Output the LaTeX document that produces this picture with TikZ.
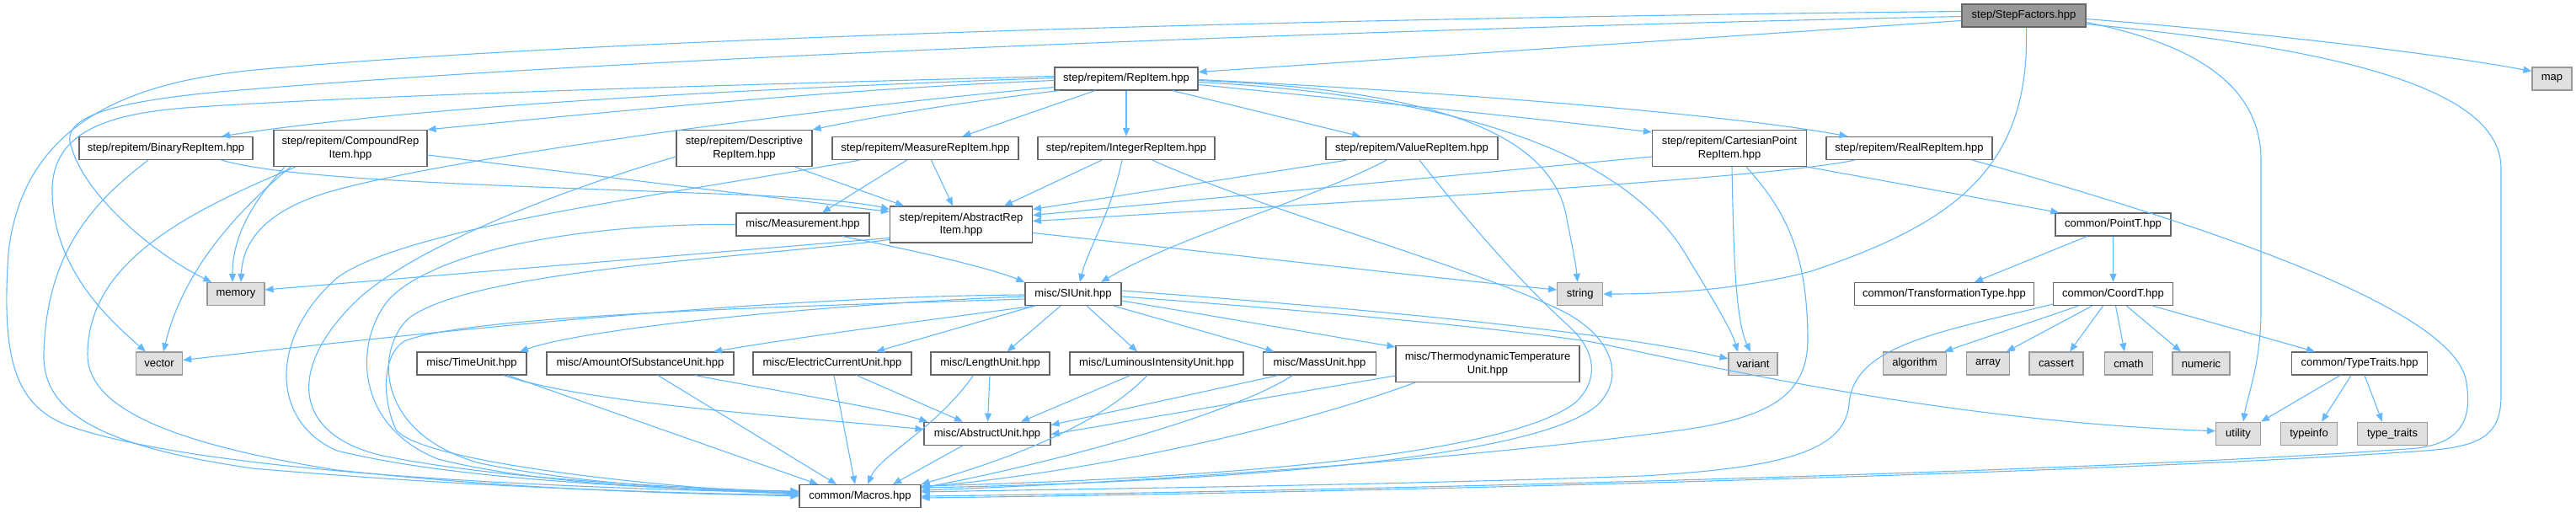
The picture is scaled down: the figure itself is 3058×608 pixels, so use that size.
\documentclass[tikz,border=0pt]{standalone}
\usepackage{fontspec}
\setmainfont{Liberation Sans}
\usetikzlibrary{arrows.meta}
\definecolor{edgec}{HTML}{63B8FF}
\definecolor{bord}{HTML}{666666}
\definecolor{extb}{HTML}{999999}
\definecolor{extf}{HTML}{E0E0E0}
\definecolor{rootf}{HTML}{999999}
\newcommand\dxfont{\fontsize{13pt}{15.5pt}\selectfont}
\begin{document}
\begin{tikzpicture}[x=1pt,y=-1pt,
 box/.style={draw=bord, fill=white, line width=1.2pt, inner sep=0pt, minimum height=27pt, font=\dxfont, align=center},
 tall/.style={minimum height=43pt},
 ext/.style={box, draw=extb, fill=extf},
 root/.style={box, fill=rootf},
 e/.style={draw=edgec, line width=1.1pt, -{Triangle[length=10pt,width=8pt]}}]
\useasboundingbox (0,0) rectangle (3058,608);
% nodes
\node[root, minimum width=147pt] (SF) at (2402.5,18.5) {step/StepFactors.hpp};
\node[box, minimum width=170pt] (RI) at (1337,93.5) {step/repitem/RepItem.hpp};
\node[ext, minimum width=47pt] (map) at (3029.5,93.5) {map};
\node[box, minimum width=206pt] (BIN) at (197,176) {step/repitem/BinaryRepItem.hpp};
\node[box, tall, minimum width=182pt] (CMP) at (416,176) {step/repitem/CompoundRep\\Item.hpp};
\node[box, tall, minimum width=161pt] (DSC) at (883.5,176) {step/repitem/Descriptive\\RepItem.hpp};
\node[box, minimum width=221pt] (MSR) at (1098.5,176) {step/repitem/MeasureRepItem.hpp};
\node[box, minimum width=210pt] (INT) at (1337,176) {step/repitem/IntegerRepItem.hpp};
\node[box, minimum width=204pt] (VAL) at (1676,176) {step/repitem/ValueRepItem.hpp};
\node[box, tall, minimum width=183pt] (CAR) at (2053,176) {step/repitem/CartesianPoint\\RepItem.hpp};
\node[box, minimum width=197pt] (REAL) at (2266.5,176) {step/repitem/RealRepItem.hpp};
\node[box, minimum width=158pt] (MEAS) at (953,266.5) {misc/Measurement.hpp};
\node[box, tall, minimum width=169pt] (ABS) at (1141,266.5) {step/repitem/AbstractRep\\Item.hpp};
\node[box, minimum width=137pt] (PT) at (2508.5,266.5) {common/PointT.hpp};
\node[ext, minimum width=68pt] (mem) at (280,349) {memory};
\node[box, minimum width=114pt] (SI) at (1274,349) {misc/SIUnit.hpp};
\node[ext, minimum width=54pt] (str) at (1875.7,349) {string};
\node[box, minimum width=213pt] (TT) at (2308,349) {common/TransformationType.hpp};
\node[box, minimum width=142pt] (CT) at (2508.5,349) {common/CoordT.hpp};
\node[ext, minimum width=55pt] (vec) at (189,431.5) {vector};
\node[box, minimum width=130pt] (TU) at (560,431.5) {misc/TimeUnit.hpp};
\node[box, minimum width=222pt] (AMT) at (760,431.5) {misc/AmountOfSubstanceUnit.hpp};
\node[box, minimum width=188pt] (EC) at (988,431.5) {misc/ElectricCurrentUnit.hpp};
\node[box, minimum width=141pt] (LEN) at (1175.5,431.5) {misc/LengthUnit.hpp};
\node[box, minimum width=206pt] (LUM) at (1373,431.5) {misc/LuminousIntensityUnit.hpp};
\node[box, minimum width=134pt] (MASS) at (1566.5,431.5) {misc/MassUnit.hpp};
\node[box, tall, minimum width=218pt] (THM) at (1766,432) {misc/ThermodynamicTemperature\\Unit.hpp};
\node[ext, minimum width=58pt] (var) at (2081,431.8) {variant};
\node[ext, minimum width=75pt] (alg) at (2273,431.5) {algorithm};
\node[ext, minimum width=51pt] (arr) at (2360,431.5) {array};
\node[ext, minimum width=64pt] (cas) at (2441,431.5) {cassert};
\node[ext, minimum width=57pt] (cm) at (2527,431.5) {cmath};
\node[ext, minimum width=68pt] (num) at (2613,431.5) {numeric};
\node[box, minimum width=161pt] (TTR) at (2801,431.5) {common/TypeTraits.hpp};
\node[box, minimum width=150pt] (AU) at (1172,514.7) {misc/AbstructUnit.hpp};
\node[ext, minimum width=53pt] (util) at (2657,514.7) {utility};
\node[ext, minimum width=67pt] (tinfo) at (2741,514.7) {typeinfo};
\node[ext, minimum width=83pt] (ttr) at (2840,514.7) {type\_traits};
\node[box, minimum width=144pt] (MAC) at (1021,589) {common/Macros.hpp};
% StepFactors
\draw[e] ([yshift=-6pt]SF.west) -- ([yshift=8pt]RI.east);
\draw[e] ([yshift=-4pt]SF.east) .. controls (2700,40) and (2900,65) .. ([yshift=9pt]map.west);
\draw[e] ([xshift=3pt]SF.south) .. controls (2410,200) and (2320,265) .. (2150,322) .. controls (2050,348) and (1950,349) .. (str.east);
\draw[e] ([yshift=-8pt]SF.east) .. controls (2620,55) and (2684,110) .. (2684,190) -- (2684,370) .. controls (2684,430) and (2668,470) .. ([xshift=6pt]util.north);
\draw[e] ([yshift=-10pt]SF.east) .. controls (2800,60) and (2969,110) .. (2969,200) -- (2969,470) .. controls (2969,520) and (2940,530) .. (2880,535) .. controls (2500,562) and (1600,585) .. ([yshift=-2pt]MAC.east);
\draw[e] ([yshift=5pt]SF.west) .. controls (1700,20) and (800,40) .. (338,80) .. controls (200,90) and (30,120) .. (10,300) .. controls (2,420) and (15,480) .. (80,505) .. controls (250,565) and (700,580) .. ([yshift=4pt]MAC.west);
\draw[e] ([yshift=-1pt]SF.west) .. controls (1600,35) and (700,70) .. (250,110) .. controls (130,122) and (70,140) .. (85,175) .. controls (100,230) and (180,300) .. (mem);
% RepItem
\draw[e] ([yshift=1pt]RI.west) .. controls (900,105) and (500,125) .. ([xshift=66pt]BIN.north);
\draw[e] ([yshift=-2pt]RI.west) .. controls (1000,105) and (700,135) .. (CMP.north east);
\draw[e] ([xshift=6pt]RI.south west) .. controls (1150,120) and (1040,138) .. (DSC.north east);
\draw[e] ([xshift=-37pt]RI.south) -- ([xshift=44pt]MSR.north);
\draw[e] (RI) -- (INT);
\draw[e] ([xshift=55pt]RI.south) -- ([xshift=-61pt]VAL.north);
\draw[e] ([yshift=-7pt]RI.east) .. controls (1600,118) and (1800,138) .. ([yshift=-3pt]CAR.north west);
\draw[e] ([yshift=-1pt]RI.east) .. controls (1700,108) and (2050,135) .. ([xshift=-73pt]REAL.north);
\draw[e] ([yshift=-10pt]RI.west) .. controls (950,130) and (520,190) .. (390,228) .. controls (310,252) and (288,290) .. ([xshift=6pt]mem.north);
\draw[e] ([yshift=-2pt]RI.east) .. controls (1650,105) and (1830,140) .. (1858,250) .. controls (1866,290) and (1871,315) .. ([xshift=-3pt]str.north);
\draw[e] ([yshift=-4pt]RI.east) .. controls (1700,112) and (1920,170) .. (2000,300) .. controls (2030,350) and (2055,390) .. ([xshift=-18pt]var.north);
\draw[e] ([yshift=3pt]RI.west) .. controls (900,100) and (450,112) .. (220,128) .. controls (120,136) and (60,160) .. (62,230) .. controls (64,320) and (130,380) .. (vec);
% BinaryRepItem
\draw[e] ([xshift=66pt]BIN.south) .. controls (350,215) and (600,220) .. (900,232) .. controls (980,236) and (1030,242) .. ([yshift=-4pt]ABS.north west);
\draw[e] ([xshift=-21pt]BIN.south) .. controls (110,240) and (55,300) .. (52,420) .. controls (50,490) and (120,530) .. (300,556) .. controls (600,582) and (850,586) .. ([yshift=1pt]MAC.west);
% CompoundRepItem
\draw[e] ([yshift=-8pt]CMP.east) -- ([yshift=-7pt]ABS.north west);
\draw[e] ([xshift=-78pt]CMP.south) .. controls (290,250) and (276,290) .. ([xshift=-4pt]mem.north);
\draw[e] ([xshift=-71pt]CMP.south) .. controls (270,260) and (215,330) .. ([xshift=5pt]vec.north);
\draw[e] ([xshift=-65pt]CMP.south) .. controls (200,260) and (105,320) .. (104,420) .. controls (103,480) and (190,525) .. (400,558) .. controls (650,585) and (850,586) .. (MAC.west);
% DescriptiveRepItem
\draw[e] ([xshift=60pt]DSC.south) -- ([xshift=-68pt]ABS.north);
\draw[e] ([yshift=-10pt]DSC.west) .. controls (650,230) and (480,300) .. (420,360) .. controls (340,440) and (350,515) .. (450,540) .. controls (600,572) and (850,580) .. ([yshift=5pt]MAC.west);
% MeasureRepItem
\draw[e] ([xshift=-22pt]MSR.south) -- ([xshift=23pt]MEAS.north);
\draw[e] ([xshift=7pt]MSR.south) -- ([xshift=-10pt]ABS.north);
\draw[e] ([xshift=-78pt]MSR.south) .. controls (800,230) and (480,270) .. (400,330) .. controls (320,400) and (320,500) .. (400,535) .. controls (550,572) and (800,580) .. ([yshift=4pt]MAC.west);
% Measurement
\draw[e] ([xshift=47pt]MEAS.south) .. controls (1100,300) and (1180,320) .. (SI.north west);
\draw[e] (MEAS.west) .. controls (700,265) and (520,295) .. (462,355) .. controls (420,405) and (420,505) .. (520,545) .. controls (660,580) and (860,582) .. ([yshift=6pt]MAC.west);
% AbstractRepItem
\draw[e] ([yshift=-16pt]ABS.west) -- ([yshift=5pt]mem.east);
\draw[e] ([yshift=-18pt]ABS.west) .. controls (900,305) and (560,320) .. (485,378) .. controls (445,415) and (445,515) .. (570,550) .. controls (720,580) and (880,583) .. ([yshift=2pt]MAC.west);
\draw[e] ([yshift=-10pt]ABS.east) .. controls (1400,295) and (1700,330) .. ([yshift=5pt]str.west);
% IntegerRepItem
\draw[e] ([xshift=-29pt]INT.south) -- ([xshift=51pt]ABS.north);
\draw[e] ([xshift=-5pt]INT.south) .. controls (1320,250) and (1290,300) .. ([xshift=8pt]SI.north);
\draw[e] ([xshift=31pt]INT.south) .. controls (1500,250) and (1760,320) .. (1860,372) .. controls (1915,402) and (1930,450) .. (1895,482) .. controls (1820,545) and (1450,572) .. ([yshift=10pt]MAC.east);
% ValueRepItem
\draw[e] ([xshift=-77pt]VAL.south) -- ([yshift=-4pt]ABS.north east);
\draw[e] ([xshift=-30pt]VAL.south) .. controls (1550,240) and (1400,280) .. ([xshift=33pt]SI.north);
\draw[e] ([xshift=9pt]VAL.south) .. controls (1740,260) and (1800,330) .. (1860,385) .. controls (1900,420) and (1895,455) .. (1870,478) .. controls (1790,540) and (1450,568) .. ([yshift=12pt]MAC.east);
% CartesianPointRepItem
\draw[e] ([yshift=-10pt]CAR.west) -- ([yshift=11pt]ABS.east);
\draw[e] ([xshift=3pt]CAR.south) .. controls (2058,300) and (2060,380) .. ([xshift=-3pt]var.north);
\draw[e] ([xshift=20pt]CAR.south) .. controls (2120,250) and (2145,300) .. (2146,400) .. controls (2147,470) and (2100,495) .. (2000,510) .. controls (1700,550) and (1300,575) .. ([yshift=7pt]MAC.east);
\draw[e] (CAR.south east) -- ([xshift=5pt]PT.north west);
% RealRepItem
\draw[e] ([xshift=-65pt]REAL.south) .. controls (2100,212) and (1600,240) .. ([yshift=4pt]ABS.east);
\draw[e] ([xshift=75pt]REAL.south) .. controls (2700,290) and (2920,380) .. (2928,455) .. controls (2935,500) and (2920,525) .. (2870,532) .. controls (2500,560) and (1600,583) .. (MAC.east);
% PointT, CoordT, TypeTraits
\draw[e] ([xshift=-31pt]PT.south) -- ([xshift=36pt]TT.north);
\draw[e] (PT) -- (CT);
\draw[e] ([xshift=-41pt]CT.south) -- ([xshift=35pt]alg.north);
\draw[e] ([xshift=-25pt]CT.south) -- ([xshift=22pt]arr.north);
\draw[e] ([xshift=-12pt]CT.south) -- ([xshift=16pt]cas.north);
\draw[e] ([xshift=3pt]CT.south) -- ([xshift=-5pt]cm.north);
\draw[e] ([xshift=16pt]CT.south) -- ([xshift=-24pt]num.north);
\draw[e] ([xshift=47pt]CT.south) -- ([xshift=-53pt]TTR.north);
\draw[e] ([yshift=-12pt]CT.west) .. controls (2300,395) and (2200,410) .. (2195,480) .. controls (2190,540) and (2100,556) .. (1950,565) .. controls (1600,577) and (1300,580) .. ([yshift=5pt]MAC.east);
\draw[e] ([xshift=-23pt]TTR.south) -- (util.north east);
\draw[e] ([xshift=-10pt]TTR.south) -- ([xshift=15pt]tinfo.north);
\draw[e] ([xshift=6pt]TTR.south) -- ([xshift=-12pt]ttr.north);
% SIUnit
\draw[e] ([yshift=-1pt]SI.west) .. controls (900,352) and (500,395) .. ([yshift=4pt]vec.east);
\draw[e] ([yshift=-3pt]SI.west) .. controls (1000,360) and (700,388) .. ([xshift=57pt]TU.north);
\draw[e] ([yshift=-6pt]SI.west) .. controls (1000,362) and (560,372) .. (480,405) .. controls (455,420) and (452,470) .. (470,510) .. controls (500,550) and (800,580) .. ([yshift=3pt]MAC.west);
\draw[e] ([xshift=-45pt]SI.south) .. controls (1100,380) and (950,400) .. ([xshift=87pt]AMT.north);
\draw[e] ([xshift=-46pt]SI.south) -- ([xshift=52pt]EC.north);
\draw[e] ([xshift=-15pt]SI.south) -- ([xshift=20pt]LEN.north);
\draw[e] ([xshift=16pt]SI.south) -- ([xshift=-23pt]LUM.north);
\draw[e] ([xshift=48pt]SI.south) -- ([xshift=-54pt]MASS.north);
\draw[e] ([yshift=-8pt]SI.east) -- ([yshift=-2pt]THM.north west);
\draw[e] ([yshift=4pt]SI.east) .. controls (1600,365) and (1900,392) .. ([yshift=6pt]var.west);
\draw[e] ([yshift=-3pt]SI.east) .. controls (1600,372) and (1800,392) .. (1890,406) .. controls (2000,428) and (2300,500) .. ([yshift=3pt]util.west);
% units
\draw[e] ([xshift=38pt]TU.south) .. controls (700,480) and (950,495) .. ([yshift=5pt]AU.west);
\draw[e] ([xshift=43pt]TU.south) -- ([xshift=-50pt]MAC.north);
\draw[e] ([xshift=65pt]AMT.south) .. controls (900,460) and (1050,485) .. ([xshift=5pt]AU.north west);
\draw[e] ([xshift=21pt]AMT.south) -- ([xshift=-28pt]MAC.north);
\draw[e] ([xshift=29pt]EC.south) -- ([xshift=-29pt]AU.north);
\draw[e] ([xshift=2pt]EC.south) -- ([xshift=-6pt]MAC.north);
\draw[e] (LEN) -- (AU);
\draw[e] ([xshift=-20pt]LEN.south) .. controls (1110,510) and (1045,540) .. ([xshift=9pt]MAC.north);
\draw[e] ([xshift=-31pt]LUM.south) -- ([xshift=40pt]AU.north);
\draw[e] ([xshift=-11pt]LUM.south) .. controls (1300,510) and (1180,550) .. (MAC.north east);
\draw[e] ([xshift=-49pt]MASS.south) -- ([yshift=-4pt]AU.north east);
\draw[e] ([xshift=-32pt]MASS.south) .. controls (1450,500) and (1200,560) .. ([yshift=10pt]MAC.east);
\draw[e] ([yshift=-14pt]THM.west) -- ([yshift=-1pt]AU.east);
\draw[e] ([xshift=-86pt]THM.south) .. controls (1500,520) and (1250,565) .. ([yshift=11pt]MAC.east);
\draw[e] ([xshift=-29pt]AU.south) -- ([xshift=39pt]MAC.north);
\end{tikzpicture}
\end{document}
